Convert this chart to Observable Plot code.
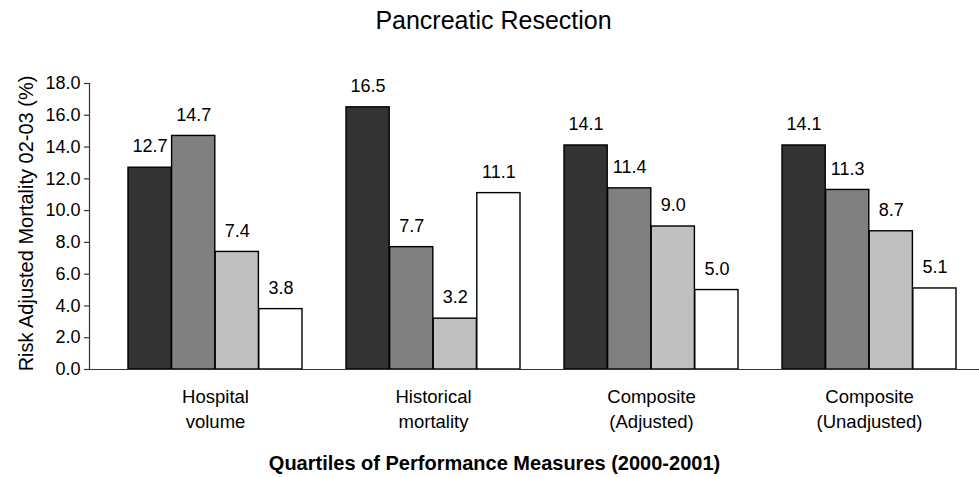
<!DOCTYPE html>
<html>
<head>
<meta charset="utf-8">
<script src="https://cdn.jsdelivr.net/npm/d3@7"></script>
<script src="https://cdn.jsdelivr.net/npm/@observablehq/plot@0.6"></script>
<style>
  html, body { margin: 0; padding: 0; background: #ffffff; }
  #chart svg { display: block; }
</style>
</head>
<body>
<div id="chart"></div>
<script>
const chartTitle = "Pancreatic Resection";
const xTitle = "Quartiles of Performance Measures (2000-2001)";
const yTitle = "Risk Adjusted Mortality 02-03 (%)";
const groups = ["Hospital volume", "Historical mortality", "Composite (Adjusted)", "Composite (Unadjusted)"];
const groupLabels = ["Hospital\nvolume", "Historical\nmortality", "Composite\n(Adjusted)", "Composite\n(Unadjusted)"];
const quartiles = ["Q1", "Q2", "Q3", "Q4"];
const hospitalVolume = [12.7, 14.7, 7.4, 3.8];
const historicalMortality = [16.5, 7.7, 3.2, 11.1];
const compositeAdjusted = [14.1, 11.4, 9.0, 5.0];
const compositeUnadjusted = [14.1, 11.3, 8.7, 5.1];
const yTicks = [0, 2, 4, 6, 8, 10, 12, 14, 16, 18];
const quartileColors = ["#333333", "#808080", "#c0c0c0", "#ffffff"];

const seriesByGroup = [hospitalVolume, historicalMortality, compositeAdjusted, compositeUnadjusted];
const data = groups.flatMap((g, gi) =>
  quartiles.map((q, qi) => ({group: g, quartile: q, qi, value: seriesByGroup[gi][qi]}))
);
const labelRows = groups.map((g, i) => ({group: g, label: groupLabels[i]}));

// band layout of the category axis
const xRange = [104.65, 978.65];
const padInner = 0.2018, padOuter = 0.1009;
const stepPx = (xRange[1] - xRange[0]) / (groups.length - padInner + 2 * padOuter);
const bandPx = stepPx * (1 - padInner);
const slotPx = bandPx / quartiles.length;

const font = "'Liberation Sans', Arial, sans-serif";
const fmt = d3.format(".1f");

const barMarks = quartiles.map((q, qi) =>
  Plot.barY(data.filter(d => d.quartile === q), {
    x: "group", y: "value", fill: "quartile",
    stroke: "#000000", strokeWidth: 1.4,
    insetLeft: qi * slotPx, insetRight: (quartiles.length - 1 - qi) * slotPx
  })
);
const valueMarks = quartiles.map((q, qi) =>
  Plot.text(data.filter(d => d.quartile === q), {
    x: "group", y: "value", text: d => fmt(d.value),
    dx: (qi - (quartiles.length - 1) / 2) * slotPx, dy: -21,
    fontSize: 18, fill: "#000000"
  })
);

const chart = Plot.plot({
  width: 979,
  height: 477,
  marginTop: 83,
  marginBottom: 108,
  marginLeft: 89,
  marginRight: 0,
  style: {fontFamily: font, fontSize: "18px", background: "#ffffff", color: "#000000", overflow: "visible"},
  x: {domain: groups, range: xRange, paddingInner: padInner, paddingOuter: padOuter, axis: null, label: null},
  y: {domain: [0, 18], axis: null},
  color: {domain: quartiles, range: quartileColors},
  marks: [
    ...barMarks,
    ...valueMarks,
    Plot.text(labelRows, {x: "group", text: "label", frameAnchor: "bottom", lineAnchor: "top", dy: 16, fontSize: 18.5, lineHeight: 1.35, fill: "#000000"}),
    Plot.ruleY([0], {stroke: "#333333", strokeWidth: 1.2}),
    Plot.frame({anchor: "left", stroke: "#333333", strokeWidth: 1.2}),
    Plot.axisY({ticks: yTicks, tickFormat: () => "", tickSize: 5, stroke: "#333333", strokeWidth: 1.2, label: null}),
    Plot.text(yTicks, {y: d => d, text: d => fmt(d), frameAnchor: "left", textAnchor: "end", lineAnchor: "middle", dx: -9, fontSize: 18, fill: "#000000"}),
    Plot.text([yTitle], {frameAnchor: "left", textAnchor: "middle", lineAnchor: "middle", rotate: -90, dx: -63, dy: -3, fontSize: 20, fill: "#000000"}),
    Plot.text([chartTitle], {frameAnchor: "top", textAnchor: "middle", lineAnchor: "middle", dx: -41, dy: -63, fontSize: 25, fill: "#000000"}),
    Plot.text([xTitle], {frameAnchor: "bottom", textAnchor: "middle", lineAnchor: "middle", dx: -40, dy: 94, fontSize: 20, fontWeight: "bold", fill: "#000000"})
  ]
});
document.getElementById("chart").appendChild(chart);
</script>
</body>
</html>
